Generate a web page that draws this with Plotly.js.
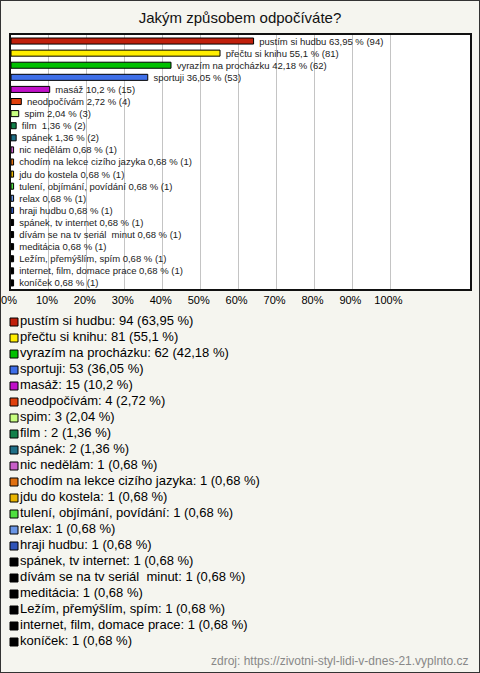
<!DOCTYPE html>
<html>
<head>
<meta charset="utf-8">
<script src="https://cdn.plot.ly/plotly-3.0.1.min.js"></script>
<style>
html,body{margin:0;padding:0;background:#f5f5ef;}
#chart{width:478px;height:671px;border:1px solid #333;}
</style>
</head>
<body>
<div id="chart"></div>
<script>
const categories = [
  "pustím si hudbu", "přečtu si knihu", "vyrazím na procházku", "sportuji", "masáž",
  "neodpočívám", "spim", "film\u00a0", "spánek", "nic nedělám",
  "chodím na lekce cizího jazyka", "jdu do kostela", "tulení, objímání, povídání", "relax", "hraji hudbu",
  "spánek, tv internet", "dívám se na tv seriál \u00a0minut", "meditácia", "Ležím, přemýšlím, spím", "internet, film, domace prace",
  "koníček"
];
const counts = [94, 81, 62, 53, 15, 4, 3, 2, 2, 1, 1, 1, 1, 1, 1, 1, 1, 1, 1, 1, 1];
const percents = [63.95, 55.1, 42.18, 36.05, 10.2, 2.72, 2.04, 1.36, 1.36, 0.68, 0.68, 0.68, 0.68, 0.68, 0.68, 0.68, 0.68, 0.68, 0.68, 0.68, 0.68];
const colors = [
  "#c0200c", "#ffee00", "#00c000", "#3f6fe8", "#c010c8",
  "#e0400c", "#c8ff80", "#12804a", "#1f6f86", "#c860c8",
  "#e07010", "#e8b400", "#50e040", "#6a96e6", "#2f54b8",
  "#000000", "#000000", "#000000", "#000000", "#000000", "#000000"
];
const tickVals = [0, 10, 20, 30, 40, 50, 60, 70, 80, 90, 100];
const tickLabels = ["0%", "10%", "20%", "30%", "40%", "50%", "60%", "70%", "80%", "90%", "100%"];
const chartTitle = "Jakým způsobem odpočíváte?";
const sourceText = "zdroj: https://zivotni-styl-lidi-v-dnes-21.vyplnto.cz";

const fmt = v => String(v).replace('.', ',');
const FONT = "Liberation Sans, Arial, sans-serif";
const BG = '#f5f5ef';

const traces = categories.map((c, i) => ({
  type: 'bar',
  orientation: 'h',
  y: [c],
  x: [percents[i]],
  width: 0.5,
  marker: {color: colors[i], line: {color: '#000', width: 1}},
  text: ['\u00a0' + c + ' ' + fmt(percents[i]) + ' % (' + counts[i] + ')'],
  textposition: 'outside',
  constraintext: 'none',
  cliponaxis: false,
  textfont: {family: FONT, size: 9.5, color: '#222'},
  xaxis: 'x', yaxis: 'y',
  showlegend: false,
  hoverinfo: 'skip'
}));

traces.push({
  type: 'scatter',
  mode: 'markers+text',
  x: categories.map(() => 0),
  y: categories,
  marker: {symbol: 'square', size: 8, color: colors, line: {color: '#000', width: 1}},
  text: categories.map((c, i) => c + ': ' + counts[i] + ' (' + fmt(percents[i]) + ' %)'),
  textposition: 'middle right',
  textfont: {family: FONT, size: 13, color: '#000'},
  cliponaxis: false,
  xaxis: 'x2', yaxis: 'y2',
  showlegend: false,
  hoverinfo: 'skip'
});

const layout = {
  width: 478, height: 671,
  margin: {l: 10, r: 9, t: 34, b: 22},
  paper_bgcolor: BG,
  plot_bgcolor: BG,
  barmode: 'overlay',
  font: {family: FONT, color: '#000'},
  title: {text: chartTitle, font: {family: FONT, size: 15, color: '#111'}, x: 0.5, xanchor: 'center', y: 1 - 17/671, yanchor: 'middle', yref: 'container'},
  xaxis: {
    domain: [0, 1], anchor: 'y', range: [0, 121],
    tickvals: tickVals, ticktext: tickLabels, ticklabelshift: -2, ticklabeloverflow: 'allow',
    showgrid: true, gridcolor: '#c4c4c4', gridwidth: 1, zeroline: false,
    showline: true, mirror: true, linecolor: '#111', linewidth: 2,
    tickfont: {family: FONT, size: 11, color: '#000'}, ticks: ''
  },
  yaxis: {
    domain: [0.587, 1], anchor: 'x', type: 'category',
    categoryorder: 'array', categoryarray: categories,
    autorange: 'reversed', showticklabels: false, showgrid: false, zeroline: false,
    showline: true, mirror: true, linecolor: '#111', linewidth: 2, ticks: ''
  },
  xaxis2: {domain: [0, 1], anchor: 'y2', range: [-3, 456], visible: false},
  yaxis2: {domain: [0, 0.5463], anchor: 'x2', type: 'category', categoryorder: 'array', categoryarray: categories, range: [20.5, -0.5], visible: false},
  shapes: [{
    type: 'rect', xref: 'x domain', yref: 'y domain', x0: 0, x1: 1, y0: 0, y1: 1,
    fillcolor: '#ffffff', line: {width: 0}, layer: 'below'
  }],
  annotations: [{
    text: sourceText, xref: 'paper', yref: 'paper', x: 1, y: -11/615,
    xanchor: 'right', yanchor: 'middle', showarrow: false,
    font: {family: FONT, size: 12, color: '#888'}
  }]
};

Plotly.newPlot('chart', traces, layout, {displayModeBar: false, staticPlot: true});
</script>
</body>
</html>
